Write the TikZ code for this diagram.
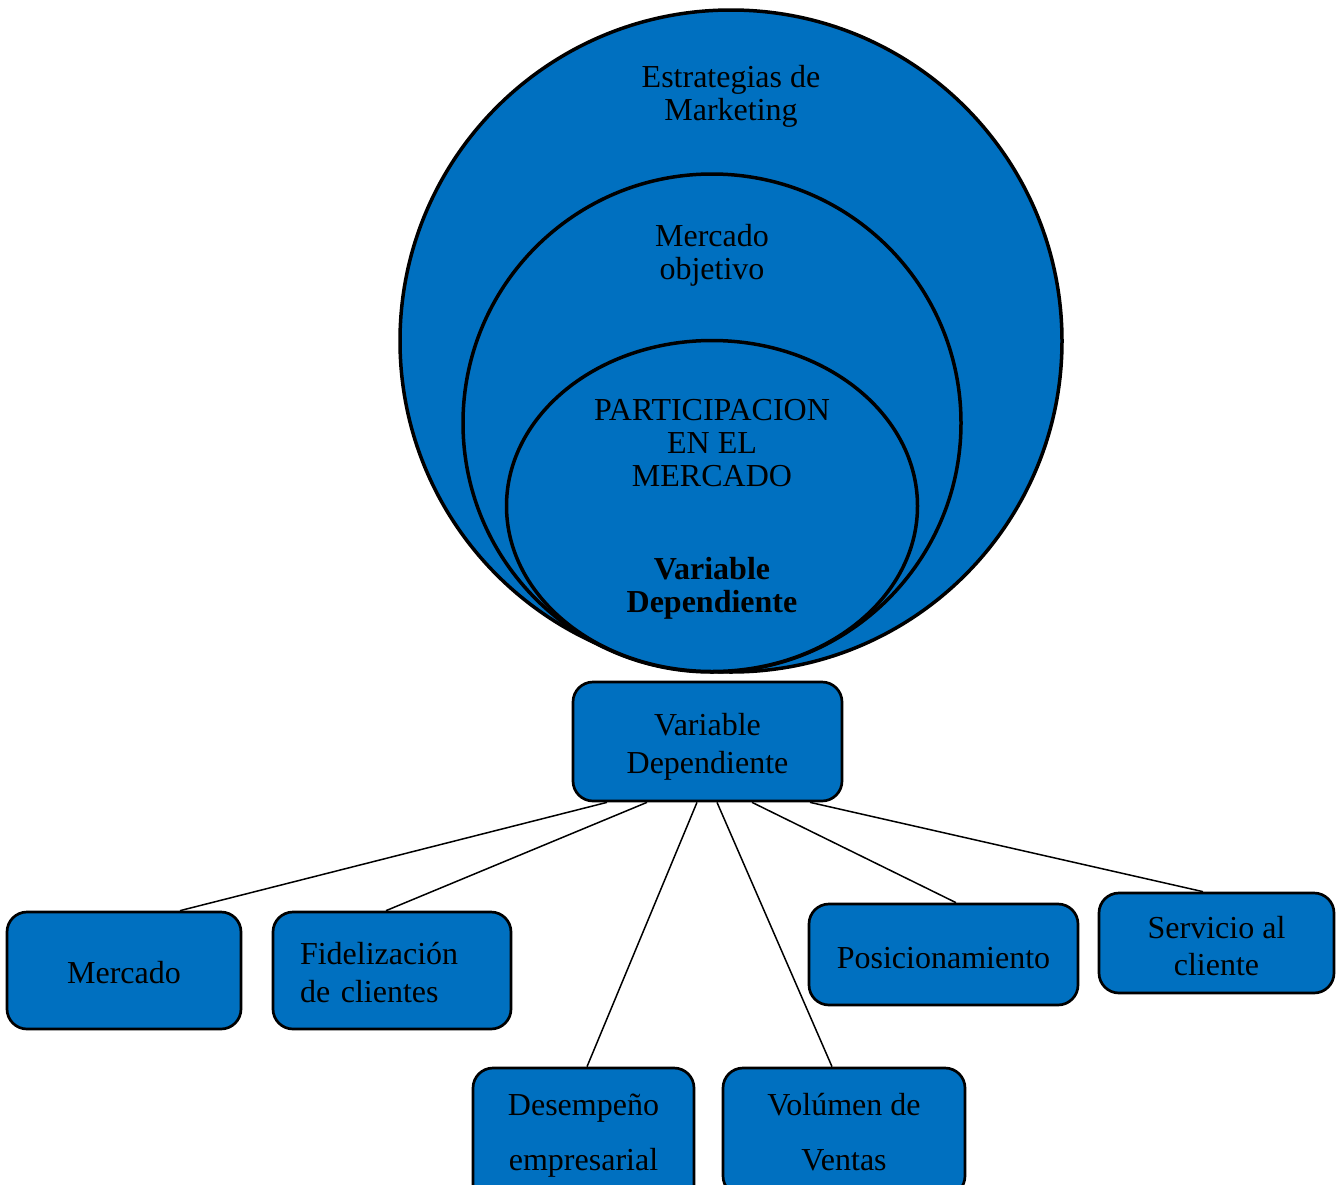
\documentclass[tikz,border=0pt]{standalone}
\usepackage{fontspec}
\setmainfont{Liberation Serif}
\definecolor{fillblue}{RGB}{0,112,192}
\begin{document}
\begin{tikzpicture}[x=1pt,y=-1pt,
  txt/.style={font=\fontsize{32}{33}\selectfont, align=center, inner sep=0pt},
  box/.style={draw=black, line width=2.7pt, fill=fillblue, rounded corners=20pt, inner sep=0pt, align=center},
  ring/.style={draw=black, line width=3.5pt, fill=fillblue},
  link/.style={draw=black, line width=1.5pt}]
\useasboundingbox (0,0) rectangle (1339,1184);
\clip (0,0) rectangle (1339,1184);
% nested circles
\path[ring] (731,341) circle [radius=331];
\path[ring] (712,423) circle [radius=249];
\path[ring] (712,506) ellipse [x radius=205.5, y radius=165.5];
\node[txt] (t1) at (731,96) {Estrategias de\\Marketing};
\node[txt] (t2) at (712,255.5) {Mercado\\objetivo};
\node[txt] (t3) at (712,443) {PARTICIPACION\\EN EL\\MERCADO};
\node[txt, font=\fontsize{32}{33}\selectfont\bfseries] (t4) at (712,588) {Variable\\Dependiente};
% boxes
\node[box, minimum width=269pt, minimum height=119pt, font=\fontsize{32}{38}\selectfont] (vd) at (707.5,741.5) {\rule{0pt}{32pt}Variable\\Dependiente};
\node[box, minimum width=234pt, minimum height=117pt, font=\fontsize{32}{38}\selectfont] (mer) at (124,970.5) {\rule{0pt}{26pt}Mercado};
\node[box, minimum width=238pt, minimum height=117pt, text width=184pt, align=left, font=\fontsize{32}{38}\selectfont] (fid) at (392,970.5) {\rule{0pt}{26pt}Fidelización\\de clientes};
\node[box, minimum width=221pt, minimum height=136pt, font=\fontsize{32}{55}\selectfont] (des) at (583.5,1136) {Desempeño\\empresarial};
\node[box, minimum width=242pt, minimum height=128pt, font=\fontsize{32}{55}\selectfont] (vol) at (844,1132) {Volúmen de\\Ventas};
\node[box, minimum width=269pt, minimum height=101pt, font=\fontsize{32}{38}\selectfont] (pos) at (943.5,954.5) {\rule{0pt}{28pt}Posicionamiento};
\node[box, minimum width=235pt, minimum height=100pt, font=\fontsize{32}{37}\selectfont] (ser) at (1216.5,943) {\rule{0pt}{28pt}Servicio al\\cliente};
% connectors
\draw[link] ([xshift=-100.5pt]vd.south) -- ([xshift=56pt]mer.north);
\draw[link] ([xshift=-60.5pt]vd.south) -- ([xshift=-6pt]fid.north);
\draw[link] ([xshift=-10.5pt]vd.south) -- ([xshift=3.5pt]des.north);
\draw[link] ([xshift=9.5pt]vd.south) -- ([xshift=-12pt]vol.north);
\draw[link] ([xshift=44.5pt]vd.south) -- ([xshift=12.5pt]pos.north);
\draw[link] ([xshift=102.5pt]vd.south) -- ([xshift=-13.5pt]ser.north);
\end{tikzpicture}
\end{document}
